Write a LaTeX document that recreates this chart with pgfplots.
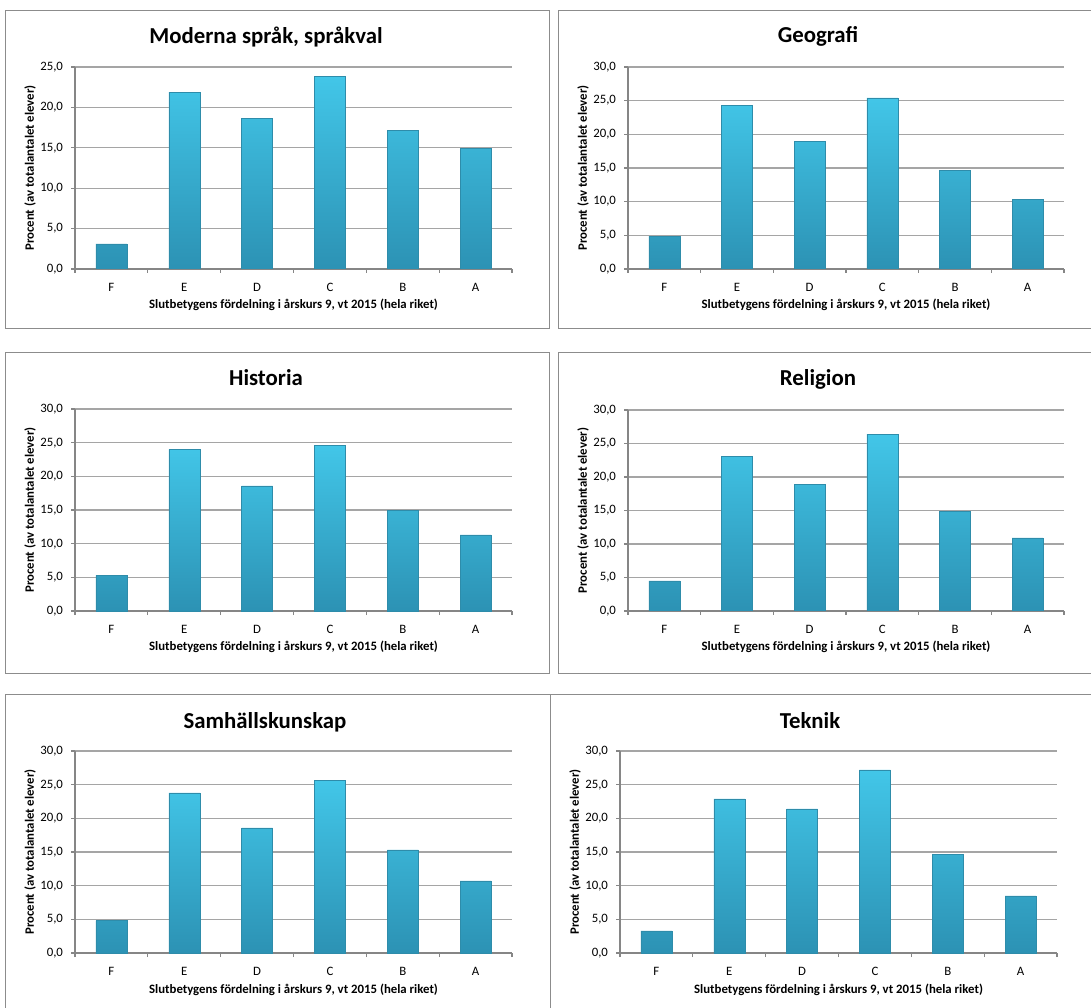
\documentclass[border=0pt]{standalone}
\usepackage{fontspec}
\setmainfont{Carlito}
\usepackage{pgfplots}
\pgfplotsset{compat=1.18}

\definecolor{framegray}{RGB}{140,140,140}
\definecolor{axisgray}{RGB}{134,134,134}
\definecolor{gridgray}{RGB}{165,165,165}
\definecolor{bartop}{RGB}{66,198,232}
\definecolor{barbot}{RGB}{44,146,180}
\definecolor{baredge}{RGB}{46,140,170}

\newcommand{\labfont}{\fontsize{6.4}{7}\selectfont}
\newcommand{\titfont}{\fontsize{11.4}{13}\selectfont\bfseries}

\pgfplotsset{
  panel/.style={
    scale only axis,
    width=218.5pt, height=101pt,
    xmin=-0.5, xmax=5.5, ymin=0,
    axis x line*=bottom, axis y line*=left,
    axis line style={draw=axisgray, line width=0.6pt, -},
    tick align=outside,
    major tick length=2pt,
    tick style={draw=axisgray, line width=0.6pt},
    xtick={-0.5,0.5,...,5.5}, xticklabels={},
    extra x ticks={0,1,2,3,4,5},
    extra x tick labels={F,E,D,C,B,A},
    extra x tick style={major tick length=0pt},
    xticklabel style={yshift=-3.5pt},
    yticklabel style={xshift=-0.5pt},
    ymajorgrids,
    grid style={draw=gridgray, line width=0.6pt},
    ticklabel style={font=\labfont},
    /pgf/number format/assume math mode=true,
    yticklabel style={/pgf/number format/.cd, fixed, fixed zerofill, precision=1, use comma},
    xlabel={Slutbetygens fördelning i årskurs 9, vt 2015 (hela riket)},
    ylabel={Procent (av totalantalet elever)},
    label style={font=\labfont\bfseries},
    xlabel style={at={(axis description cs:0.5,-0.198)}, anchor=base},
    ylabel style={at={(axis description cs:-0.103,0.5)}, anchor=center},
  },
  gradebar/.style={ybar, bar width=15.5pt, draw=baredge, line width=0.25pt,
    top color=bartop, bottom color=barbot},
}

\begin{document}
\begin{tikzpicture}
\useasboundingbox (0,0) rectangle (545.5pt,503.5pt);

% ramar
\draw[framegray, line width=0.5pt] (2.5pt,339pt) rectangle (274.5pt,498pt);
\draw[framegray, line width=0.5pt] (279pt,339pt) rectangle (552pt,498pt);
\draw[framegray, line width=0.5pt] (2.5pt,167pt) rectangle (274.5pt,327pt);
\draw[framegray, line width=0.5pt] (279pt,167pt) rectangle (552pt,327pt);
\draw[framegray, line width=0.5pt] (2.5pt,-4pt) rectangle (275pt,156.5pt);
\draw[framegray, line width=0.5pt] (275pt,-4pt) rectangle (552pt,156.5pt);

% Moderna språk
\begin{axis}[panel, at={(37.5pt,369pt)}, ymax=25, ytick={0,5,...,25}]
\addplot[gradebar] coordinates {(0,3.1) (1,21.9) (2,18.6) (3,23.8) (4,17.2) (5,14.9)};
\end{axis}

% Geografi
\begin{axis}[panel, at={(314pt,369pt)}, width=218pt, ymax=30, ytick={0,5,...,30}]
\addplot[gradebar] coordinates {(0,4.9) (1,24.3) (2,18.9) (3,25.4) (4,14.6) (5,10.3)};
\end{axis}

% Historia
\begin{axis}[panel, at={(37.5pt,198pt)}, ymax=30, ytick={0,5,...,30}]
\addplot[gradebar] coordinates {(0,5.3) (1,24.0) (2,18.6) (3,24.6) (4,14.9) (5,11.3)};
\end{axis}

% Religion
\begin{axis}[panel, at={(314pt,198pt)}, width=218pt, height=100.5pt, ymax=30, ytick={0,5,...,30}]
\addplot[gradebar] coordinates {(0,4.5) (1,23.1) (2,18.9) (3,26.4) (4,14.9) (5,10.9)};
\end{axis}

% Samhällskunskap
\begin{axis}[panel, at={(37.5pt,27pt)}, ymax=30, ytick={0,5,...,30}]
\addplot[gradebar] coordinates {(0,4.8) (1,23.8) (2,18.6) (3,25.6) (4,15.3) (5,10.7)};
\end{axis}

% Teknik
\begin{axis}[panel, at={(310pt,27pt)}, ymax=30, ytick={0,5,...,30}]
\addplot[gradebar] coordinates {(0,3.3) (1,22.9) (2,21.4) (3,27.2) (4,14.7) (5,8.5)};
\end{axis}

% rubriker
\node[font=\titfont, anchor=base] at (133pt,481.5pt) {Moderna språk, språkval};
\node[font=\titfont, anchor=base] at (409pt,482pt) {Geografi};
\node[font=\titfont, anchor=base] at (133pt,310.5pt) {Historia};
\node[font=\titfont, anchor=base] at (409pt,310.5pt) {Religion};
\node[font=\titfont, anchor=base] at (132.5pt,139.5pt) {Samhällskunskap};
\node[font=\titfont, anchor=base] at (405pt,139.5pt) {Teknik};
\end{tikzpicture}
\end{document}
